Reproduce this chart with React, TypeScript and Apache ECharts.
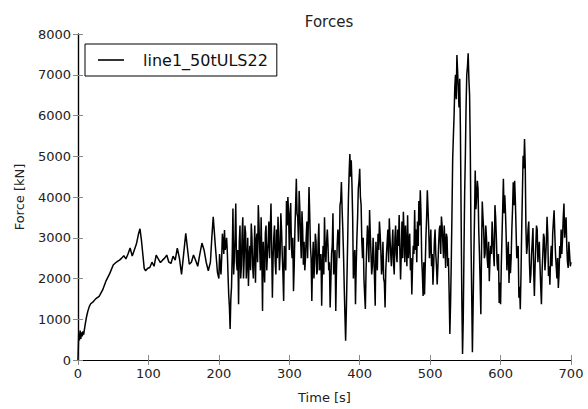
import React, { useEffect, useRef } from "react";
import * as echarts from "echarts";

const seriesName = "line1_50tULS22";

// [time s, force kN] – ramp-up part
const rampSegment: [number, number][] = [
  [0, 0], [1, 650], [2, 480], [3, 720], [4, 520], [5, 680], [6, 580], [7, 700], [8, 620],
  [10, 850], [12, 1050], [14, 1200], [16, 1310], [18, 1380], [21, 1420], [25, 1500],
  [30, 1560], [35, 1720], [40, 1950], [45, 2120], [50, 2330], [53, 2380], [56, 2420],
  [59, 2450], [62, 2500], [65, 2560], [68, 2480], [71, 2600], [74, 2750], [77, 2550],
  [80, 2700], [83, 2850], [86, 3100], [88, 3220], [90, 2950], [92, 2600], [94, 2250],
  [96, 2190], [99, 2250], [102, 2270], [105, 2400], [108, 2300], [111, 2575], [114, 2480],
  [117, 2390], [120, 2450], [123, 2500], [126, 2575], [129, 2400], [132, 2370], [135, 2550],
  [138, 2450], [141, 2745], [144, 2500], [147, 2100], [150, 2600], [153, 3110], [155, 2800],
  [158, 2350], [161, 2400], [164, 2575], [167, 2450], [170, 2300], [173, 2600], [176, 2870],
  [179, 2700], [182, 2400], [185, 2190], [188, 2400], [190, 3000], [192, 3515], [195, 2800],
  [198, 2150],
];

// [time s, force kN] – irregular part, even seconds
const noisyEven: [number, number][] = [
  [200, 2000], [202, 2350], [204, 2500], [206, 2900], [208, 3190], [210, 2800], [212, 2665],
  [214, 1600], [216, 760], [218, 1800], [220, 3720], [222, 2500], [224, 3840], [226, 2200],
  [228, 1370], [230, 3300], [232, 2300], [234, 3500], [236, 2500], [238, 3100], [240, 2400],
  [242, 1815], [244, 2800], [246, 3350], [248, 2300], [250, 2600], [252, 1895], [254, 3100],
  [256, 3800], [258, 2700], [260, 3500], [262, 1200], [264, 2400], [266, 3100], [268, 2200],
  [270, 2900], [272, 2500], [274, 3840], [276, 1530], [278, 3000], [280, 2400], [282, 3200],
  [284, 3515], [286, 2200], [288, 3600], [290, 2600], [292, 1450], [294, 2500], [296, 3900],
  [298, 4000], [300, 2700], [302, 3850], [304, 2500], [306, 1690], [308, 3200], [310, 4450],
  [312, 3500], [314, 4150], [316, 3000], [318, 3650], [320, 2340], [322, 2200], [324, 3000],
  [326, 2500], [328, 4245], [330, 2800], [332, 1450], [334, 2900], [336, 2400], [338, 2900],
  [340, 2200], [342, 3350], [344, 2500], [346, 1330], [348, 2800], [350, 3500], [352, 2400],
  [354, 3200], [356, 2200], [358, 1290], [360, 2600], [362, 3600], [364, 2400], [366, 1200],
  [368, 2800], [370, 3000], [372, 3800], [374, 4365], [376, 3200], [378, 1800], [380, 470],
  [382, 2100], [384, 4000], [386, 5055], [388, 4900], [390, 3500], [392, 2400], [394, 1370],
  [396, 3000], [398, 4200], [400, 4690], [402, 3800], [404, 2500], [406, 2000], [408, 1250],
  [410, 2800], [412, 3000], [414, 3680], [416, 2600], [418, 2300], [420, 2600], [422, 1330],
  [424, 2500], [426, 3100], [428, 3400], [430, 2700], [432, 2300], [434, 2000], [436, 1290],
  [438, 2600], [440, 3200], [442, 3475], [444, 2600], [446, 2800], [448, 2400], [450, 3000],
  [452, 2600], [454, 3200], [456, 3555], [458, 1975], [460, 3400], [462, 3640], [464, 2400],
  [466, 2800], [468, 3550], [470, 2900], [472, 2200], [474, 1610], [476, 2800], [478, 3680],
  [480, 3200], [482, 3400], [484, 3900], [486, 4165], [488, 2500], [490, 1570], [492, 1610],
  [494, 3000], [496, 4165], [498, 3200], [500, 2800], [502, 2300], [504, 1850], [506, 2900],
  [508, 2600], [510, 1855], [512, 2800], [514, 3300], [516, 3520], [518, 2900], [520, 3300],
  [522, 2260], [524, 3000], [526, 2500], [528, 640], [530, 2400], [532, 4930], [534, 6000],
  [536, 7000], [538, 7485], [540, 6600], [542, 6900], [544, 3500], [546, 150], [548, 2580],
  [550, 5000], [552, 7000], [554, 7525], [556, 6500], [558, 3000], [560, 190], [562, 2500],
  [564, 4650], [566, 4000], [568, 4200], [570, 2600], [572, 1125], [574, 3890], [576, 3200],
  [578, 2600], [580, 3000], [582, 2260], [584, 1935], [586, 2800], [588, 3400], [590, 2600],
  [592, 3800], [594, 3000], [596, 2200], [598, 1400], [600, 1370], [602, 3000], [604, 4445],
  [606, 4040], [608, 3000], [610, 2600], [612, 1890], [614, 2130], [616, 3200], [618, 4360],
  [620, 4400], [622, 3200], [624, 2600], [626, 1530], [628, 1245], [630, 3200], [632, 5010],
  [634, 5420], [636, 3230], [638, 2800], [640, 3400], [642, 1890], [644, 2600], [646, 3240],
  [648, 1570], [650, 2800], [652, 3200], [654, 2700], [656, 2300], [658, 1370], [660, 2600],
  [662, 3000], [664, 2500], [666, 3515], [668, 2060], [670, 1850], [672, 2800], [674, 3100],
  [676, 3675], [678, 2600], [680, 2000], [682, 1770], [684, 2800], [686, 3200], [688, 3000],
  [690, 3840], [692, 3330], [694, 2800], [696, 2260], [698, 2600], [700, 2400],
];

// [time s, force kN] – irregular part, odd seconds
const noisyOdd: [number, number][] = [
  [201, 2600], [203, 2100], [205, 3100], [207, 2600], [209, 2700], [211, 3000], [213, 2100],
  [215, 1300], [217, 1500], [219, 2600], [221, 2100], [223, 3000], [225, 2400], [227, 2700],
  [229, 2900], [231, 2000], [233, 3100], [235, 2000], [237, 3300], [239, 2000], [241, 3000],
  [243, 2500], [245, 2200], [247, 3000], [249, 2000], [251, 3300], [253, 2900], [255, 2400],
  [257, 3300], [259, 2200], [261, 2600], [263, 2900], [265, 1900], [267, 3300], [269, 2600],
  [271, 3400], [273, 2500], [275, 2800], [277, 2500], [279, 3300], [281, 2100], [283, 2500],
  [285, 3000], [287, 2600], [289, 3200], [291, 2100], [293, 2800], [295, 2200], [297, 3300],
  [299, 3600], [301, 3500], [303, 2800], [305, 3000], [307, 2300], [309, 3800], [311, 3600],
  [313, 2900], [315, 3700], [317, 2500], [319, 3200], [321, 2900], [323, 2500], [325, 3400],
  [327, 3300], [329, 3600], [331, 2500], [333, 2400], [335, 2000], [337, 3100], [339, 2100],
  [341, 2900], [343, 2200], [345, 2600], [347, 2300], [349, 2100], [351, 2700], [353, 2900],
  [355, 2800], [357, 2400], [359, 1900], [361, 2800], [363, 2100], [365, 2700], [367, 2200],
  [369, 3200], [371, 2500], [373, 3900], [375, 3700], [377, 2600], [379, 1100], [381, 1200],
  [383, 3000], [385, 4600], [387, 4500], [389, 4300], [391, 2000], [393, 2700], [395, 2300],
  [397, 3500], [399, 4400], [401, 4000], [403, 2900], [405, 3000], [407, 1600], [409, 2200],
  [411, 3300], [413, 2400], [415, 3100], [417, 2100], [419, 3000], [421, 2000], [423, 2900],
  [425, 2200], [427, 2700], [429, 3100], [431, 2100], [433, 2900], [435, 1900], [437, 2200],
  [439, 2900], [441, 2400], [443, 3000], [445, 2300], [447, 3200], [449, 2100], [451, 3300],
  [453, 2400], [455, 2800], [457, 2700], [459, 2600], [461, 2500], [463, 3100], [465, 3300],
  [467, 2300], [469, 2500], [471, 3100], [473, 2500], [475, 2300], [477, 2600], [479, 2700],
  [481, 2400], [483, 2800], [485, 3300], [487, 3600], [489, 2100], [491, 2400], [493, 2300],
  [495, 3500], [497, 3700], [499, 2500], [501, 3200], [503, 2600], [505, 2300], [507, 3200],
  [509, 2300], [511, 2300], [513, 3200], [515, 2600], [517, 3300], [519, 2500], [521, 2900],
  [523, 3100], [525, 2300], [527, 1600], [529, 1400], [531, 3600], [533, 5500], [535, 6700],
  [537, 6400], [539, 7100], [541, 6200], [543, 5600], [545, 1500], [547, 1000], [549, 4100],
  [551, 6200], [553, 7200], [555, 6900], [557, 5200], [559, 1600], [561, 1300], [563, 3500],
  [565, 3700], [567, 4400], [569, 3200], [571, 1900], [573, 2700], [575, 3500], [577, 2500],
  [579, 3300], [581, 2500], [583, 2900], [585, 2500], [587, 2600], [589, 3000], [591, 2300],
  [593, 3500], [595, 2400], [597, 2600], [599, 1900], [601, 2300], [603, 3700], [605, 3600],
  [607, 3600], [609, 2200], [611, 2900], [613, 2600], [615, 2500], [617, 3700], [619, 3800],
  [621, 3900], [623, 2500], [625, 2800], [627, 1800], [629, 2100], [631, 4100], [633, 4700],
  [635, 4800], [637, 2600], [639, 3200], [641, 2400], [643, 2100], [645, 2900], [647, 2200],
  [649, 2300], [651, 3300], [653, 2400], [655, 2900], [657, 1800], [659, 2200], [661, 3100],
  [663, 2200], [665, 2900], [667, 3100], [669, 2300], [671, 2500], [673, 2300], [675, 3400],
  [677, 3100], [679, 2300], [681, 2500], [683, 2100], [685, 2500], [687, 2600], [689, 3500],
  [691, 3000], [693, 3500], [695, 2400], [697, 2900], [699, 2300],
];

const FONT = "DejaVu Sans";

export default function App() {
  const ref = useRef<HTMLDivElement>(null);
  useEffect(() => {
    if (!ref.current) return;
    const chart = echarts.init(ref.current, undefined, { renderer: "svg" });
    const data = [...rampSegment, ...noisyEven, ...noisyOdd].sort((a, b) => a[0] - b[0]);
    const tickStyle = { show: true, inside: true, length: 5, lineStyle: { color: "#888", width: 1 } };
    const plain = (v: number) => String(v);
    chart.setOption({
      animation: false,
      backgroundColor: "#fff",
      title: {
        text: "Forces",
        left: 324,
        top: 9,
        textAlign: "center",
        textStyle: { fontFamily: FONT, fontSize: 15, fontWeight: "normal", color: "#222" },
      },
      legend: {
        left: 85,
        top: 44,
        orient: "vertical",
        data: [seriesName],
        icon: "rect",
        backgroundColor: "#fff",
        borderColor: "#000",
        borderWidth: 1,
        borderRadius: 0,
        padding: [8, 9, 8, 13],
        itemWidth: 26,
        itemHeight: 1.6,
        textStyle: { fontFamily: FONT, fontSize: 16, color: "#111", padding: [0, 0, 0, 14] },
      },
      grid: { left: 78, right: 17, top: 34, bottom: 46, containLabel: false },
      xAxis: [
        {
          type: "value",
          min: 0,
          max: 700,
          interval: 100,
          name: "Time [s]",
          nameLocation: "middle",
          nameGap: 31,
          nameTextStyle: { fontFamily: FONT, fontSize: 13, color: "#222" },
          axisLine: { show: true, lineStyle: { color: "#000", width: 1.2 } },
          axisTick: tickStyle,
          axisLabel: { fontFamily: FONT, fontSize: 13, color: "#222", margin: 7, formatter: plain },
          splitLine: { show: false },
        },
        {
          type: "value",
          position: "top",
          min: 0,
          max: 700,
          interval: 100,
          axisLine: { show: true, lineStyle: { color: "#000", width: 1.2 } },
          axisTick: tickStyle,
          axisLabel: { show: false },
          splitLine: { show: false },
        },
      ],
      yAxis: [
        {
          type: "value",
          min: 0,
          max: 8000,
          interval: 1000,
          name: "Force [kN]",
          nameLocation: "middle",
          nameGap: 52,
          nameTextStyle: { fontFamily: FONT, fontSize: 13, color: "#222" },
          axisLine: { show: true, lineStyle: { color: "#000", width: 1.2 } },
          axisTick: tickStyle,
          axisLabel: { fontFamily: FONT, fontSize: 13, color: "#222", margin: 7, formatter: plain },
          splitLine: { show: false },
        },
        {
          type: "value",
          position: "right",
          min: 0,
          max: 8000,
          interval: 1000,
          axisLine: { show: true, lineStyle: { color: "#000", width: 1.2 } },
          axisTick: tickStyle,
          axisLabel: { show: false },
          splitLine: { show: false },
        },
      ],
      series: [
        {
          name: seriesName,
          type: "line",
          data,
          xAxisIndex: 0,
          yAxisIndex: 0,
          symbol: "none",
          showSymbol: false,
          lineStyle: { color: "#000", width: 1.5 },
          itemStyle: { color: "#000" },
          clip: true,
        },
      ],
    });
    return () => chart.dispose();
  }, []);
  return (
    <div
      ref={ref}
      style={{ position: "fixed", left: 0, top: 0, width: 588, height: 409 }}
    />
  );
}
